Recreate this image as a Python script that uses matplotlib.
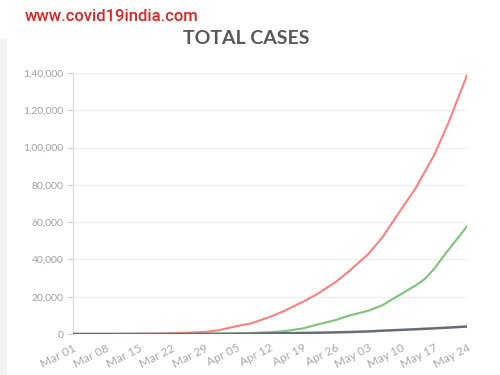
import numpy as np
import pandas as pd
import matplotlib
matplotlib.use("Agg")
import matplotlib.pyplot as plt
from matplotlib.patches import Rectangle

# values (twice a week)
dates = ["2020-03-01", "2020-03-04", "2020-03-08", "2020-03-11", "2020-03-15",
         "2020-03-18", "2020-03-22", "2020-03-25", "2020-03-29", "2020-04-01",
         "2020-04-05", "2020-04-08", "2020-04-12", "2020-04-15", "2020-04-19",
         "2020-04-22", "2020-04-26", "2020-04-29", "2020-05-03", "2020-05-06",
         "2020-05-10", "2020-05-13", "2020-05-15", "2020-05-17", "2020-05-20",
         "2020-05-24"]
confirmed = [3, 28, 39, 62, 113, 151, 396, 657, 1071, 1998, 4289, 5734, 9205,
             12370, 17265, 21370, 27890, 34000, 43000, 52000, 67000, 78000,
             87000, 96000, 113000, 138800]
recovered = [3, 3, 3, 4, 13, 14, 23, 43, 95, 169, 328, 506, 1000, 1500, 3000,
             5000, 7500, 10000, 12500, 15500, 21500, 26000, 29500, 35000, 45000,
             57700]
deceased = [0, 0, 0, 1, 2, 3, 7, 12, 27, 58, 124, 178, 332, 420, 559, 686, 881,
            1075, 1389, 1784, 2212, 2549, 2800, 3029, 3435, 4021]

xtick_dates = ["2020-03-01", "2020-03-08", "2020-03-15", "2020-03-22", "2020-03-29",
               "2020-04-05", "2020-04-12", "2020-04-19", "2020-04-26", "2020-05-03",
               "2020-05-10", "2020-05-17", "2020-05-24"]
xtick_labels = ["Mar 01", "Mar 08", "Mar 15", "Mar 22", "Mar 29", "Apr 05", "Apr 12",
                "Apr 19", "Apr 26", "May 03", "May 10", "May 17", "May 24"]
ytick_vals = [0, 20000, 40000, 60000, 80000, 100000, 120000, 140000]
ytick_labels = ["0", "20,000", "40,000", "60,000", "80,000", "1,00,000", "1,20,000", "1,40,000"]

x = pd.to_datetime(dates)
xt = pd.to_datetime(xtick_dates)

fig = plt.figure(figsize=(5, 3.75), dpi=100)
fig.patch.set_facecolor("white")
# light strip on the left edge of the screenshot
fig.patches.append(Rectangle((0, 0), 0.014, 0.9, transform=fig.transFigure,
                             facecolor="#f2f2f2", edgecolor="none", zorder=0))

ax = fig.add_axes([0.146, 0.1093, 0.788, 0.696])

ax.plot(x, confirmed, color="#ff7f7f", lw=1.5, zorder=3)
ax.plot(x, recovered, color="#7cc47c", lw=1.5, zorder=3)
ax.plot(x, deceased, color="#666b78", lw=1.8, zorder=3)

ax.set_xlim(xt[0], xt[-1])
ax.set_ylim(0, 140000)
ax.set_yticks(ytick_vals)
ax.set_yticklabels(ytick_labels)
ax.set_xticks(xt)
ax.set_xticklabels(xtick_labels, rotation=27, ha="right", rotation_mode="anchor")

ax.grid(axis="y", color="#efefef", lw=1)
ax.set_axisbelow(True)
for s in ["top", "right", "bottom"]:
    ax.spines[s].set_visible(False)
ax.spines["left"].set_color("#d8d8d8")
ax.tick_params(axis="y", length=4, color="#d0d0d0", labelsize=7.5, labelcolor="#a0a0a0", pad=3)
ax.tick_params(axis="x", length=0, labelsize=8.5, labelcolor="#a8a8a8", pad=6)
for lab in ax.get_xticklabels() + ax.get_yticklabels():
    lab.set_family(["Lato", "DejaVu Sans"])

fig.text(0.493, 0.898, "TOTAL CASES", ha="center", va="center", fontsize=14,
         fontweight="bold", color="#585858", family=["Lato", "DejaVu Sans"])

fig.text(0.05, 0.955, "www.covid19india.com", ha="left", va="center", fontsize=12,
         fontweight="medium", color="#e02424", family=["Roboto", "DejaVu Sans"])

fig.savefig("out.png", dpi=100)
